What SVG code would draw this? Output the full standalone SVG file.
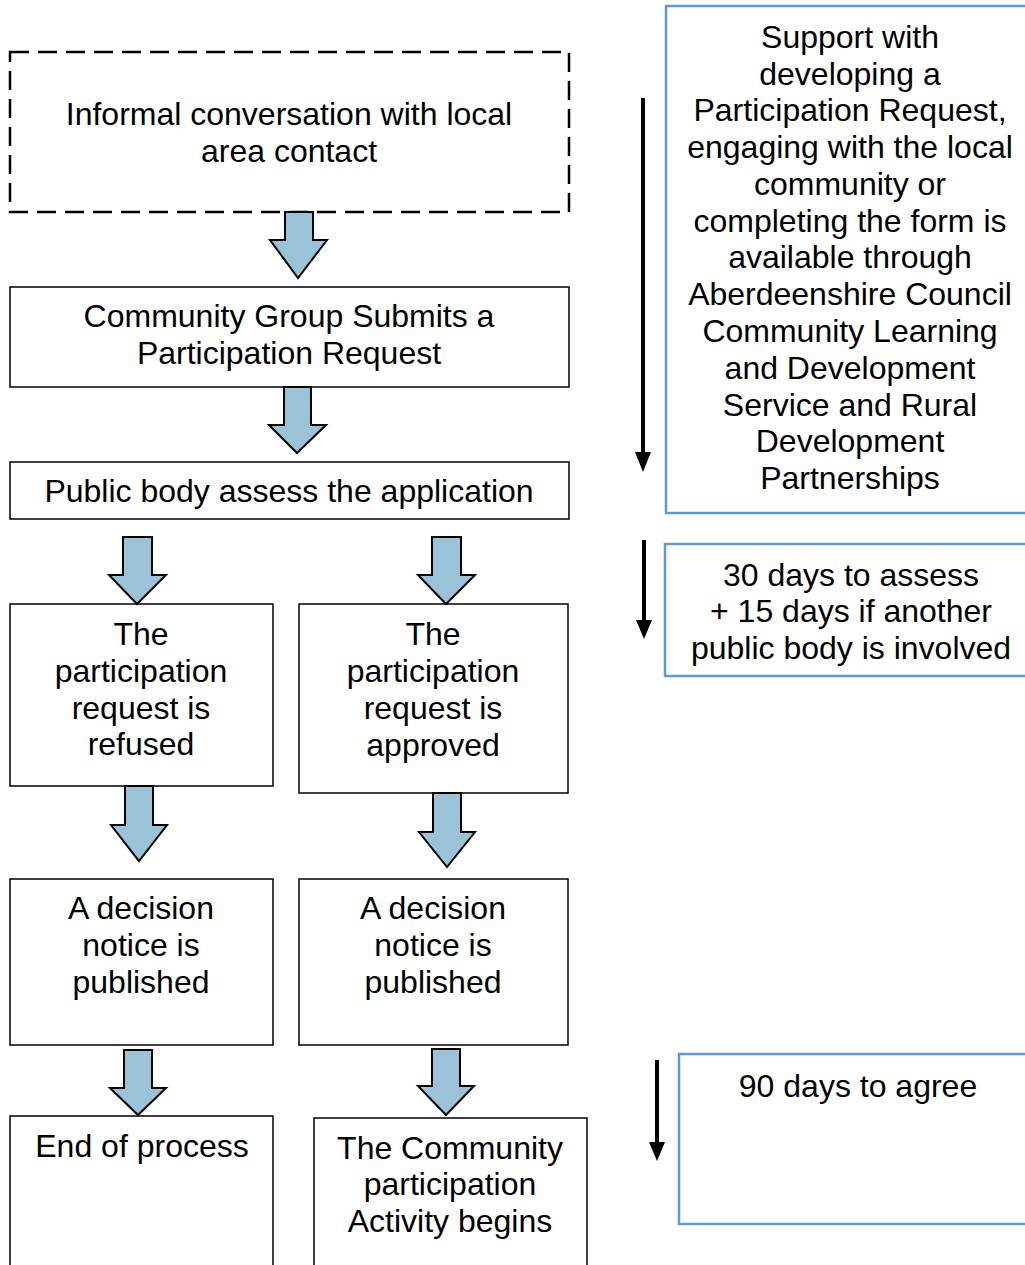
<svg xmlns="http://www.w3.org/2000/svg" width="1025" height="1265" viewBox="0 0 1025 1265">
<defs>
<style>
.box{fill:#fff;stroke:#000;stroke-width:1.5}
.dash{fill:#fff;stroke:#000;stroke-width:2.5;stroke-dasharray:19 9}
.side{fill:#fff;stroke:#5b9bd5;stroke-width:2.5}
.fat{fill:#9bc3d7;stroke:#000;stroke-width:2;stroke-linejoin:miter}
.thin{stroke:#000;stroke-width:4;fill:none}
text{font-family:"Liberation Sans",Arial,sans-serif;font-size:32px;fill:#000;text-anchor:middle}
</style>
</defs>
<rect width="1025" height="1265" fill="#fff"/>

<g id="n-informal"><rect class="dash" x="10" y="52" width="559" height="160"/>
<text x="289" y="125">Informal conversation with local</text><text x="289" y="162">area contact</text></g>

<g id="n-submit"><rect class="box" x="10" y="287" width="559" height="100"/>
<text x="289" y="327">Community Group Submits a</text><text x="289" y="364">Participation Request</text></g>

<g id="n-assess"><rect class="box" x="10" y="462" width="559" height="57"/>
<text x="289" y="502">Public body assess the application</text></g>

<g id="n-refused"><rect class="box" x="10" y="604" width="263" height="182"/>
<text x="141" y="645">The</text><text x="141" y="682">participation</text><text x="141" y="719">request is</text><text x="141" y="755">refused</text></g>

<g id="n-approved"><rect class="box" x="299" y="604" width="269" height="189"/>
<text x="433" y="645">The</text><text x="433" y="682">participation</text><text x="433" y="719">request is</text><text x="433" y="756">approved</text></g>

<g id="n-decision-left"><rect class="box" x="10" y="879" width="263" height="166"/>
<text x="141" y="919">A decision</text><text x="141" y="956">notice is</text><text x="141" y="993">published</text></g>

<g id="n-decision-right"><rect class="box" x="299" y="879" width="269" height="166"/>
<text x="433" y="919">A decision</text><text x="433" y="956">notice is</text><text x="433" y="993">published</text></g>

<g id="n-end"><rect class="box" x="10" y="1116" width="263" height="160"/>
<text x="142" y="1157">End of process</text></g>

<g id="n-begins"><rect class="box" x="314" y="1118" width="273" height="160"/>
<text x="450" y="1159">The Community</text><text x="450" y="1195">participation</text><text x="450" y="1232">Activity begins</text></g>

<g id="n-support"><rect class="side" x="666" y="6" width="370" height="507"/>
<text x="850" y="48">Support with</text><text x="850" y="85">developing a</text><text x="850" y="121">Participation Request,</text><text x="850" y="158">engaging with the local</text><text x="850" y="195">community or</text><text x="850" y="232">completing the form is</text><text x="850" y="268">available through</text><text x="850" y="305">Aberdeenshire Council</text><text x="850" y="342">Community Learning</text><text x="850" y="379">and Development</text><text x="850" y="416">Service and Rural</text><text x="850" y="452">Development</text><text x="850" y="489">Partnerships</text></g>

<g id="n-30days"><rect class="side" x="665" y="544" width="370" height="132"/>
<text x="851" y="586">30 days to assess</text><text x="851" y="622">+ 15 days if another</text><text x="851" y="659">public body is involved</text></g>

<g id="n-90days"><rect class="side" x="679" y="1054" width="356" height="170"/>
<text x="858" y="1097">90 days to agree</text></g>

<g id="connectors">
<path class="fat" d="M285,212 H313 V240 H327 L298,278 L270,240 H285 Z"/>
<path class="fat" d="M284,387 H311 V425 H326 L297,453 L269,425 H284 Z"/>
<path class="fat" d="M123,537 H152 V575 H166 L137,604 L109,575 H123 Z"/>
<path class="fat" d="M432,537 H461 V575 H475 L446,604 L418,575 H432 Z"/>
<path class="fat" d="M125,786 H153 V825 H167 L139,861 L111,825 H125 Z"/>
<path class="fat" d="M433,793 H461 V832 H475 L447,867 L419,832 H433 Z"/>
<path class="fat" d="M124,1050 H152 V1088 H166 L138,1115 L110,1088 H124 Z"/>
<path class="fat" d="M432,1049 H460 V1086 H474 L446,1115 L418,1086 H432 Z"/>
<line class="thin" x1="643" y1="98" x2="643" y2="452"/>
<path d="M635,452 L651,452 L643,472 Z" fill="#000"/>
<line class="thin" x1="644" y1="540" x2="644" y2="620"/>
<path d="M636,620 L652,620 L644,639 Z" fill="#000"/>
<line class="thin" x1="657" y1="1060" x2="657" y2="1142"/>
<path d="M649,1142 L665,1142 L657,1161 Z" fill="#000"/>
</g>
</svg>
